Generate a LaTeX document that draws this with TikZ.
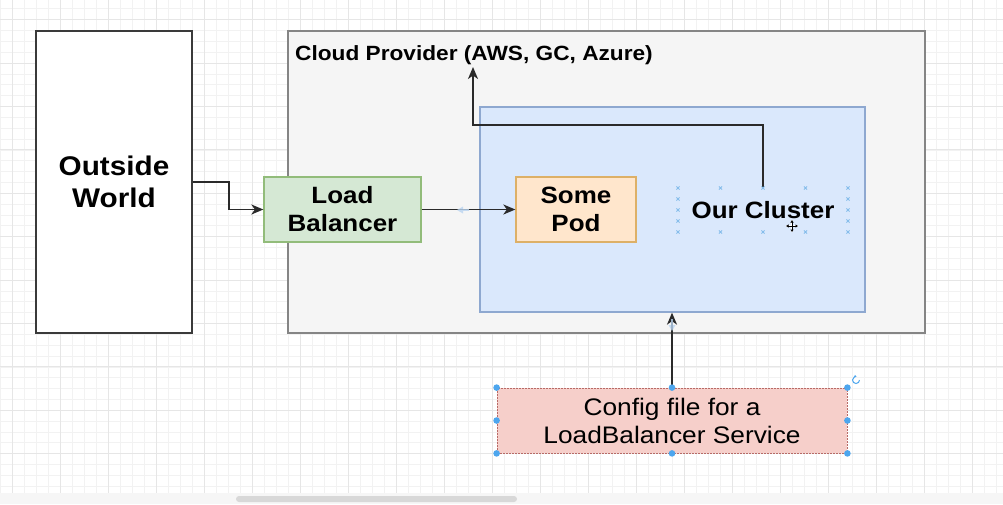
\documentclass[tikz,border=0pt]{standalone}
\usepackage{fontspec}
\setmainfont[FakeStretch=1.1]{Liberation Sans}
\usetikzlibrary{arrows.meta,calc}
\definecolor{gridminor}{HTML}{F2F2F2}
\definecolor{gridmajor}{HTML}{E6E6E6}
\definecolor{owline}{HTML}{3A3A3A}
\definecolor{cloudfill}{HTML}{F5F5F5}
\definecolor{cloudline}{HTML}{858585}
\definecolor{clfill}{HTML}{DAE8FC}
\definecolor{clline}{HTML}{8EA8D0}
\definecolor{lbfill}{HTML}{D5E8D4}
\definecolor{lbline}{HTML}{92BC7A}
\definecolor{podfill}{HTML}{FFE6CC}
\definecolor{podline}{HTML}{DDB067}
\definecolor{cfgfill}{HTML}{F6CFCA}
\definecolor{cfgline}{HTML}{B86A66}
\definecolor{wire}{HTML}{2A2A2A}
\definecolor{handle}{HTML}{4DA6EE}
\definecolor{selmark}{HTML}{86BDEB}
\definecolor{hint}{HTML}{B9D4F0}
\definecolor{scrollbg}{HTML}{F6F6F6}
\definecolor{scrollbar}{HTML}{D8D8D8}
\begin{document}
\begin{tikzpicture}[x=1pt,y=-1pt,
  box/.style={rectangle, inner sep=0pt, line width=1.3pt, align=center},
  boldtext/.style={font=\fontsize{23.6}{28}\selectfont\bfseries},
  arr/.style={draw=wire, line width=1.8pt, -{Stealth[length=12pt,width=10pt,inset=3.5pt]}},
  selx/.style={draw=selmark, line width=0.8pt},
  grip/.style={fill=handle}
]
\useasboundingbox (0,0) rectangle (1003,504);
\fill[white] (0,0) rectangle (1003,504);

% background grid of the canvas
\begin{scope}
\clip (0,0) rectangle (1003,493);
\foreach \i in {0,...,83} \draw[gridminor, line width=0.6pt] (\i*12,0) -- (\i*12,493);
\foreach \i in {0,...,45} \draw[gridminor, line width=0.6pt] (0,8.75+\i*10.85) -- (1003,8.75+\i*10.85);
\foreach \i in {0,...,20} \draw[gridmajor, line width=0.8pt] (12+\i*48,0) -- (12+\i*48,493);
\foreach \i in {0,...,10} \draw[gridmajor, line width=0.8pt] (0,19.6+\i*43.4) -- (1003,19.6+\i*43.4);
\end{scope}

% scroll bar strip
\fill[scrollbg] (0,493) rectangle (1003,504);
\fill[scrollbar, rounded corners=3pt] (236,496) rectangle (517,502);

% boxes
\node[box, fill=white, draw=owline, line width=1.5pt, minimum width=156pt, minimum height=302pt,
      font=\fontsize{27}{32}\selectfont\bfseries] (ow) at (114,182) {Outside\\World};
\node[box, fill=cloudfill, draw=cloudline, line width=1.6pt, minimum width=637pt, minimum height=302pt] (cloud) at (606.5,182) {};
\node[anchor=west, inner sep=0pt, font=\fontsize{20.6}{24}\selectfont\bfseries] (cp) at (295,55) {Cloud Provider (AWS, GC, Azure)};
\coordinate (cptip) at (473,67);
\node[box, fill=clfill, draw=clline, minimum width=385pt, minimum height=205pt] (cl) at (672.5,209.5) {};
\node[box, fill=lbfill, draw=lbline, minimum width=157pt, minimum height=65pt, boldtext] (lb) at (342.5,209.5) {Load\\Balancer};
\node[box, fill=podfill, draw=podline, minimum width=120pt, minimum height=65pt, boldtext] (pod) at (576,209.5) {Some\\Pod};
\node[box, minimum width=170pt, minimum height=44pt, boldtext] (oc) at (763,210) {Our Cluster};
\node[box, fill=cfgfill, draw=cfgline, line width=0.8pt, dash pattern=on 2pt off 1pt,
      minimum width=350pt, minimum height=65pt, font=\fontsize{23.9}{28}\selectfont] (cfg) at (672,420.5)
      {Config file for a\\LoadBalancer Service};

% connectors
\draw[arr] (ow.east) -- ++(36,0) |- (lb.west);
\draw[arr] (lb.east) -- (pod.west);
\draw[arr] (oc.north) -- ++(0,-62) -| (cptip);
\draw[arr] (cfg.north) -- (cfg.north |- cl.south);

% faint connection hints
\begin{scope}[opacity=0.8]
\fill[hint] (457,210) -- (463,206.5) -- (463,213.5) -- cycle;
\fill[hint] (463,208.6) rectangle (469,211.4);
\fill[hint] (672,331) -- (668.5,325) -- (675.5,325) -- cycle;
\fill[hint] (670.6,319) rectangle (673.4,325);
\end{scope}

% selection marks around the cluster label
\foreach \x in {678,720.5,763,805.5,848} {
  \draw[selx] (\x-1.6,186.4) -- (\x+1.6,189.6) (\x-1.6,189.6) -- (\x+1.6,186.4);
  \draw[selx] (\x-1.6,230.4) -- (\x+1.6,233.6) (\x-1.6,233.6) -- (\x+1.6,230.4);
}
\foreach \x in {678,848} \foreach \y in {199,210,221} {
  \draw[selx] (\x-1.6,\y-1.6) -- (\x+1.6,\y+1.6) (\x-1.6,\y+1.6) -- (\x+1.6,\y-1.6);
}

% move cursor
\draw[white, line width=2.4pt] (786,226) -- (798,226) (792,220) -- (792,232);
\draw[black, line width=0.9pt, {Latex[length=2.5pt,width=3.5pt]}-{Latex[length=2.5pt,width=3.5pt]}] (786,226) -- (798,226);
\draw[black, line width=0.9pt, {Latex[length=2.5pt,width=3.5pt]}-{Latex[length=2.5pt,width=3.5pt]}] (792,220) -- (792,232);

% selection handles of the config box
\foreach \a in {north west,north,north east,west,east,south west,south,south east}
  \fill[grip] (cfg.\a) circle (3.3pt);
\draw[handle, line width=1pt, -{Latex[length=2pt,width=3pt]}] (859.5,380) arc[start angle=0, end angle=-280, radius=3.5pt];
\end{tikzpicture}
\end{document}
